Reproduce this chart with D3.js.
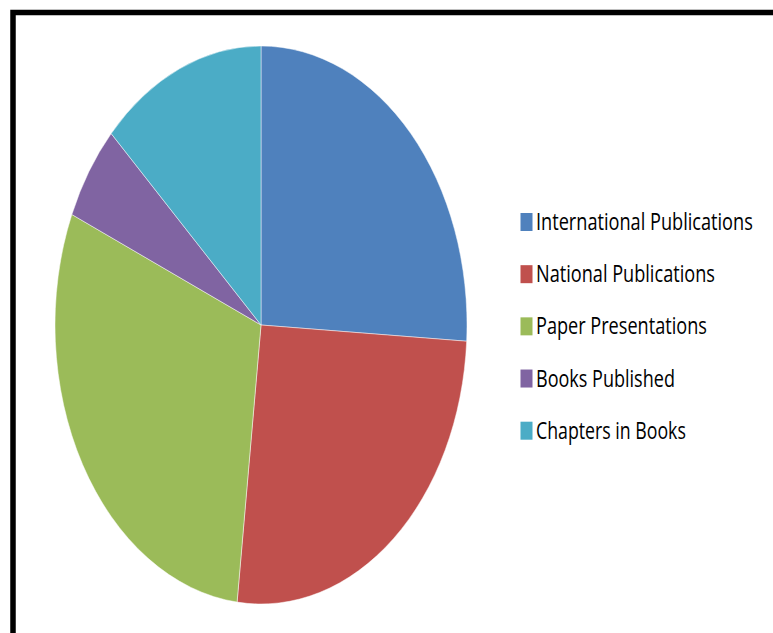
<!DOCTYPE html>
<html>
<head>
<meta charset="utf-8">
<script src="https://cdn.jsdelivr.net/npm/d3@7"></script>
<style>
  html, body { margin: 0; padding: 0; background: #fff; }
  svg { display: block; }
</style>
</head>
<body>
<svg id="chart" width="773" height="633"></svg>
<script>
const categories = ["International Publications", "National Publications", "Paper Presentations", "Books Published", "Chapters in Books"];
const values = [14, 14, 16, 3, 7];
const colors = ["#4F81BD", "#C0504D", "#9BBB59", "#8064A2", "#4BACC6"];
const legendWidths = [217, 179, 171, 139, 150];

const svg = d3.select("#chart");

// outer frame (extends past the window on right/bottom)
svg.append("rect")
  .attr("x", 13).attr("y", 12.5)
  .attr("width", 900).attr("height", 800)
  .attr("fill", "none")
  .attr("stroke", "#000")
  .attr("stroke-width", 5.5);

const cx = 261, cy = 325, rx = 206, ry = 279;
const data = categories.map((c, i) => ({ name: c, value: values[i], color: colors[i], w: legendWidths[i] }));

const pie = d3.pie().sort(null).value(d => d.value);
const arc = d3.arc().innerRadius(0).outerRadius(ry);

const g = svg.append("g")
  .attr("transform", `translate(${cx},${cy}) scale(${rx / ry},1)`);

g.selectAll("path")
  .data(pie(data))
  .join("path")
  .attr("d", arc)
  .attr("fill", d => d.data.color)
  .attr("stroke", "#ffffff")
  .attr("stroke-opacity", 0.6)
  .attr("stroke-width", 0.8)
  .attr("vector-effect", "non-scaling-stroke");

// legend
const legY = d3.scalePoint().domain(categories).range([213, 421.7]);
const leg = svg.append("g");
const items = leg.selectAll("g")
  .data(data)
  .join("g")
  .attr("transform", d => `translate(520.5,${legY(d.name)})`);

items.append("rect")
  .attr("x", 0).attr("y", 0)
  .attr("width", 12).attr("height", 18)
  .attr("fill", d => d.color);

items.append("text")
  .attr("x", 0).attr("y", 0)
  .attr("font-family", "'Open Sans', 'Noto Sans', sans-serif")
  .attr("font-size", 24)
  .attr("fill", "#000")
  .text(d => d.name)
  .each(function(d) {
    const natural = this.getComputedTextLength();
    const sx = d.w / natural;
    d3.select(this).attr("transform", `translate(15.5,17) scale(${sx},1)`);
  });
</script>
</body>
</html>
